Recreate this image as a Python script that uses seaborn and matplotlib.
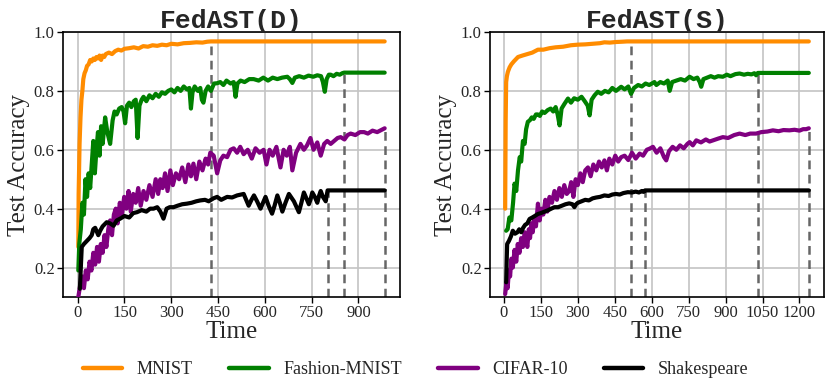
import matplotlib
matplotlib.use("Agg")
import matplotlib.pyplot as plt
import pandas as pd
import seaborn as sns

# ---------------- data ----------------
names = ["MNIST", "Fashion-MNIST", "CIFAR-10", "Shakespeare"]
colors = ["#FF8C00", "#008000", "#800080", "#000000"]
titles = ["FedAST(D)", "FedAST(S)"]
xticks_d = [0, 150, 300, 450, 600, 750, 900]
xticks_s = [0, 150, 300, 450, 600, 750, 900, 1050, 1200]
yticks = [0.2, 0.4, 0.6, 0.8, 1.0]

# ---- FedAST(D) ----
mnist_d_t = [2, 3, 6, 9, 12, 15, 18, 22, 26, 30,
             35, 40, 45, 50, 55, 60, 65, 70, 75, 80,
             85, 90, 100, 110, 120, 130, 140, 150, 165, 180,
             195, 210, 225, 240, 255, 270, 285, 300, 320, 340,
             360, 380, 400, 415, 427]
mnist_d_v = [0.27, 0.45, 0.62, 0.71, 0.77, 0.80, 0.84, 0.86, 0.87, 0.885,
             0.89, 0.905, 0.90, 0.91, 0.905, 0.915, 0.91, 0.92, 0.905, 0.92,
             0.915, 0.925, 0.93, 0.925, 0.935, 0.94, 0.937, 0.943, 0.945, 0.948,
             0.944, 0.952, 0.95, 0.955, 0.953, 0.957, 0.955, 0.96, 0.958, 0.962,
             0.963, 0.965, 0.964, 0.967, 0.968]

fmnist_d_t = [2, 5, 10, 15, 20, 25, 30, 35, 40, 45,
              50, 55, 60, 65, 70, 75, 80, 88, 95, 104,
              112, 118, 125, 133, 141, 147, 152, 158, 165, 172,
              180, 186, 192, 198, 205, 211, 220, 230, 240, 250,
              260, 270, 280, 290, 300, 310, 320, 330, 340, 350,
              358, 363, 368, 375, 385, 393, 398, 403, 410, 418,
              427, 437, 447, 457, 467, 477, 490, 500, 506, 512,
              522, 535, 550, 564, 580, 595, 610, 625, 640, 655,
              672, 680, 688, 696, 710, 725, 740, 755, 768, 780,
              786, 792, 798, 805, 811, 820, 830, 840, 848, 854]
fmnist_d_v = [0.19, 0.28, 0.33, 0.42, 0.38, 0.50, 0.44, 0.52, 0.47, 0.55,
              0.63, 0.52, 0.60, 0.66, 0.58, 0.68, 0.62, 0.71, 0.66, 0.62,
              0.70, 0.73, 0.72, 0.74, 0.745, 0.73, 0.69, 0.75, 0.76, 0.745,
              0.765, 0.77, 0.64, 0.75, 0.77, 0.78, 0.765, 0.785, 0.775, 0.79,
              0.78, 0.795, 0.79, 0.80, 0.805, 0.795, 0.81, 0.80, 0.815, 0.805,
              0.81, 0.74, 0.795, 0.815, 0.80, 0.81, 0.77, 0.76, 0.80, 0.815,
              0.80, 0.825, 0.826, 0.83, 0.82, 0.835, 0.825, 0.83, 0.78, 0.825,
              0.835, 0.83, 0.84, 0.84, 0.835, 0.845, 0.835, 0.845, 0.84, 0.845,
              0.848, 0.84, 0.827, 0.845, 0.85, 0.845, 0.852, 0.848, 0.853, 0.85,
              0.83, 0.797, 0.84, 0.855, 0.855, 0.85, 0.858, 0.855, 0.86, 0.862]

cifar_d_t = [2, 8, 14, 20, 26, 32, 38, 44, 50, 56,
             62, 68, 74, 80, 86, 92, 98, 104, 110, 116,
             122, 128, 135, 142, 149, 156, 163, 170, 178, 186,
             194, 202, 211, 220, 230, 240, 250, 258, 265, 272,
             280, 288, 297, 305, 315, 325, 335, 345, 355, 363,
             371, 380, 390, 400, 410, 418, 425, 436, 447, 457,
             467, 479, 490, 500, 511, 521, 532, 545, 558, 570,
             583, 596, 605, 615, 625, 637, 650, 660, 670, 680,
             688, 700, 714, 725, 735, 746, 756, 768, 779, 790,
             800, 811, 822, 833, 843, 855, 865, 875, 890, 905,
             918, 930, 945, 960, 971, 984]
cifar_d_v = [0.10, 0.14, 0.17, 0.13, 0.19, 0.16, 0.22, 0.19, 0.25, 0.21,
             0.27, 0.22, 0.28, 0.25, 0.31, 0.27, 0.33, 0.36, 0.31, 0.38,
             0.40, 0.35, 0.42, 0.38, 0.44, 0.40, 0.46, 0.39, 0.45, 0.42,
             0.47, 0.41, 0.46, 0.43, 0.48, 0.44, 0.50, 0.45, 0.50, 0.47,
             0.52, 0.46, 0.53, 0.48, 0.52, 0.50, 0.54, 0.49, 0.55, 0.51,
             0.553, 0.50, 0.56, 0.53, 0.57, 0.55, 0.59, 0.58, 0.52, 0.564,
             0.58, 0.575, 0.60, 0.605, 0.59, 0.61, 0.585, 0.60, 0.57, 0.605,
             0.59, 0.60, 0.55, 0.60, 0.58, 0.61, 0.54, 0.60, 0.58, 0.61,
             0.53, 0.59, 0.62, 0.60, 0.615, 0.64, 0.60, 0.625, 0.58, 0.62,
             0.63, 0.62, 0.63, 0.64, 0.643, 0.635, 0.65, 0.655, 0.65, 0.66,
             0.66, 0.655, 0.665, 0.66, 0.666, 0.673]

shake_d_t = [7, 10, 13, 20, 29, 38, 45, 50, 56, 62,
             66, 72, 80, 93, 104, 115, 125, 136, 150, 165,
             178, 190, 205, 220, 232, 243, 255, 265, 275, 285,
             295, 307, 320, 335, 350, 365, 380, 393, 408, 420,
             435, 447, 460, 479, 495, 511, 532, 548, 557, 565,
             575, 586, 594, 602, 612, 623, 631, 640, 648, 656,
             666, 677, 693, 709, 717, 725, 733, 741, 746, 752,
             760, 768, 774, 779, 786, 795, 801]
shake_d_v = [0.128, 0.20, 0.27, 0.28, 0.29, 0.30, 0.31, 0.33, 0.335, 0.32,
             0.31, 0.325, 0.34, 0.354, 0.35, 0.342, 0.36, 0.366, 0.375, 0.37,
             0.385, 0.388, 0.395, 0.39, 0.40, 0.40, 0.405, 0.39, 0.366, 0.40,
             0.405, 0.405, 0.41, 0.415, 0.417, 0.42, 0.425, 0.428, 0.43, 0.425,
             0.435, 0.44, 0.43, 0.44, 0.438, 0.445, 0.45, 0.41, 0.43, 0.445,
             0.425, 0.40, 0.42, 0.44, 0.41, 0.383, 0.41, 0.445, 0.42, 0.39,
             0.42, 0.45, 0.425, 0.388, 0.42, 0.455, 0.435, 0.415, 0.43, 0.455,
             0.44, 0.42, 0.445, 0.46, 0.44, 0.425, 0.462]

# ---- FedAST(S) ----
mnist_s_t = [5, 7, 9, 12, 16, 23, 30, 40, 57, 75,
             95, 115, 138, 160, 185, 210, 240, 272, 300, 330,
             360, 390, 408, 430, 455, 480, 500, 514]
mnist_s_v = [0.40, 0.70, 0.83, 0.85, 0.865, 0.88, 0.89, 0.90, 0.915, 0.92,
             0.925, 0.93, 0.94, 0.94, 0.945, 0.948, 0.95, 0.955, 0.957, 0.958,
             0.96, 0.962, 0.965, 0.964, 0.966, 0.967, 0.968, 0.968]

fmnist_s_t = [9, 15, 22, 30, 37, 43, 50, 57, 64, 70,
              77, 84, 90, 97, 105, 113, 121, 130, 138, 146,
              155, 165, 178, 190, 200, 210, 218, 226, 234, 245,
              260, 272, 285, 300, 315, 328, 340, 348, 356, 368,
              381, 395, 410, 425, 440, 455, 476, 490, 505, 516,
              528, 545, 560, 575, 590, 611, 619, 635, 650, 665,
              673, 683, 700, 718, 735, 754, 770, 785, 795, 801,
              810, 825, 840, 855, 870, 889, 905, 920, 940, 957,
              975, 990, 1005, 1017, 1024, 1031]
fmnist_s_v = [0.325, 0.33, 0.37, 0.36, 0.42, 0.485, 0.46, 0.53, 0.575, 0.56,
              0.63, 0.62, 0.67, 0.695, 0.70, 0.71, 0.705, 0.72, 0.72, 0.715,
              0.73, 0.725, 0.735, 0.74, 0.73, 0.745, 0.72, 0.683, 0.74, 0.755,
              0.774, 0.76, 0.775, 0.77, 0.78, 0.765, 0.75, 0.717, 0.77, 0.785,
              0.797, 0.79, 0.80, 0.795, 0.81, 0.80, 0.814, 0.805, 0.815, 0.79,
              0.81, 0.82, 0.815, 0.825, 0.82, 0.83, 0.82, 0.83, 0.825, 0.835,
              0.80, 0.83, 0.835, 0.84, 0.835, 0.848, 0.84, 0.845, 0.83, 0.814,
              0.84, 0.845, 0.85, 0.845, 0.85, 0.848, 0.855, 0.85, 0.857, 0.859,
              0.855, 0.858, 0.856, 0.86, 0.853, 0.861]

cifar_s_t = [5, 10, 15, 20, 25, 30, 36, 43, 50, 56,
             63, 70, 77, 84, 90, 95, 101, 106, 111, 117,
             123, 130, 138, 145, 152, 160, 168, 176, 185, 195,
             205, 215, 225, 235, 245, 255, 265, 273, 282, 291,
             300, 310, 320, 330, 341, 352, 363, 375, 386, 397,
             408, 418, 428, 440, 452, 464, 476, 490, 505, 520,
             535, 551, 565, 580, 592, 605, 620, 635, 650, 659,
             670, 685, 700, 715, 730, 745, 754, 767, 781, 800,
             820, 835, 849, 870, 889, 910, 935, 957, 980, 1000,
             1024, 1045, 1070, 1092, 1115, 1135, 1159, 1180, 1200, 1215,
             1227, 1238]
cifar_s_v = [0.11, 0.15, 0.13, 0.19, 0.17, 0.23, 0.20, 0.26, 0.22, 0.28,
             0.25, 0.30, 0.27, 0.32, 0.29, 0.27, 0.33, 0.30, 0.35, 0.32,
             0.37, 0.34, 0.417, 0.36, 0.40, 0.38, 0.43, 0.39, 0.44, 0.42,
             0.46, 0.43, 0.47, 0.44, 0.48, 0.45, 0.46, 0.49, 0.44, 0.50,
             0.48, 0.52, 0.49, 0.53, 0.54, 0.51, 0.55, 0.53, 0.56, 0.54,
             0.564, 0.53, 0.57, 0.55, 0.58, 0.56, 0.575, 0.58, 0.565, 0.59,
             0.57, 0.587, 0.58, 0.60, 0.604, 0.61, 0.59, 0.605, 0.575, 0.564,
             0.595, 0.61, 0.60, 0.615, 0.605, 0.62, 0.626, 0.615, 0.632, 0.625,
             0.635, 0.628, 0.632, 0.638, 0.643, 0.64, 0.65, 0.655, 0.65, 0.655,
             0.655, 0.66, 0.662, 0.666, 0.663, 0.667, 0.666, 0.668, 0.665, 0.67,
             0.67, 0.673]

shake_s_t = [9, 11, 13, 20, 28, 36, 45, 55, 62, 70,
             78, 86, 95, 104, 115, 125, 138, 150, 165, 180,
             192, 205, 220, 235, 250, 265, 278, 286, 293, 300,
             315, 330, 345, 360, 375, 390, 408, 425, 440, 455,
             470, 485, 503, 520, 535, 548, 560, 567, 573]
shake_s_v = [0.15, 0.22, 0.28, 0.29, 0.305, 0.325, 0.315, 0.32, 0.33, 0.32,
             0.335, 0.345, 0.35, 0.365, 0.37, 0.375, 0.382, 0.385, 0.39, 0.395,
             0.40, 0.405, 0.405, 0.41, 0.415, 0.418, 0.415, 0.405, 0.415, 0.42,
             0.425, 0.43, 0.428, 0.435, 0.438, 0.44, 0.445, 0.443, 0.448, 0.45,
             0.448, 0.453, 0.456, 0.455, 0.458, 0.455, 0.46, 0.457, 0.462]

panels = [
    [(mnist_d_t, mnist_d_v), (fmnist_d_t, fmnist_d_v),
     (cifar_d_t, cifar_d_v), (shake_d_t, shake_d_v)],
    [(mnist_s_t, mnist_s_v), (fmnist_s_t, fmnist_s_v),
     (cifar_s_t, cifar_s_v), (shake_s_t, shake_s_v)],
]
panel_xticks = [xticks_d, xticks_s]

# ---------------- style ----------------
sns.set_style("whitegrid", {"grid.color": "#c4c4c4", "axes.edgecolor": "black"})
plt.rcParams['font.family'] = ['Liberation Serif', 'DejaVu Serif']
plt.rcParams['axes.linewidth'] = 1.2

W, H = 831, 383
fig = plt.figure(figsize=(W / 100, H / 100), dpi=100)
axes_px = [(63, 32, 400, 297), (490, 32, 824, 297)]
axes = []
for (x0, y0, x1, y1) in axes_px:
    axes.append(fig.add_axes([x0 / W, 1 - y1 / H, (x1 - x0) / W, (y1 - y0) / H]))

ymin, ymax = 0.1, 1.0
palette = dict(zip(names, colors))

for ax, series, title, xt in zip(axes, panels, titles, panel_xticks):
    t_end = max(t[-1] for t, v in series)
    frames = []
    for name, (t, v) in zip(names, series):
        tt = list(t) + [t_end]
        vv = list(v) + [v[-1]]
        frames.append(pd.DataFrame({"Time": tt, "Acc": vv, "Dataset": name}))
    df = pd.concat(frames, ignore_index=True)
    sns.lineplot(data=df, x="Time", y="Acc", hue="Dataset", hue_order=names,
                 palette=palette, estimator=None, sort=False, linewidth=3.0,
                 ax=ax, legend=False, zorder=3)
    for (t, v) in series:
        ax.vlines(t[-1], ymin, v[-1], colors="#666666", linestyles=(0, (3.5, 2.2)),
                  linewidth=1.8, zorder=2)
    ax.set_ylim(ymin, ymax)
    ax.set_yticks(yticks)
    ax.set_yticklabels([f"{y:.1f}" for y in yticks])
    ax.set_xticks(xt)
    ax.set_xticklabels([str(x) for x in xt])
    ax.margins(x=0.05)
    ax.tick_params(axis="both", which="major", labelsize=12, direction="out",
                   length=4, width=1, color="black", left=True, bottom=True, pad=2)
    for sp in ax.spines.values():
        sp.set_color("black")
        sp.set_linewidth(1.2)
    ax.grid(True, color="#c4c4c4", linewidth=1.2)
    ax.set_xlabel("Time", fontsize=18, labelpad=0)
    ax.set_ylabel("Test Accuracy", fontsize=18, labelpad=3)
    ax.set_title(title, fontsize=19, family="Liberation Mono", fontweight="bold", pad=3)

handles = [plt.Line2D([], [], color=c, linewidth=3.2) for c in colors]
fig.legend(handles, names, loc="center", bbox_to_anchor=(0.5, 1 - 370 / H), ncol=4,
           frameon=False, fontsize=13, handlelength=2.2, columnspacing=2.0,
           handletextpad=0.8)

fig.savefig("out.png", dpi=100)
